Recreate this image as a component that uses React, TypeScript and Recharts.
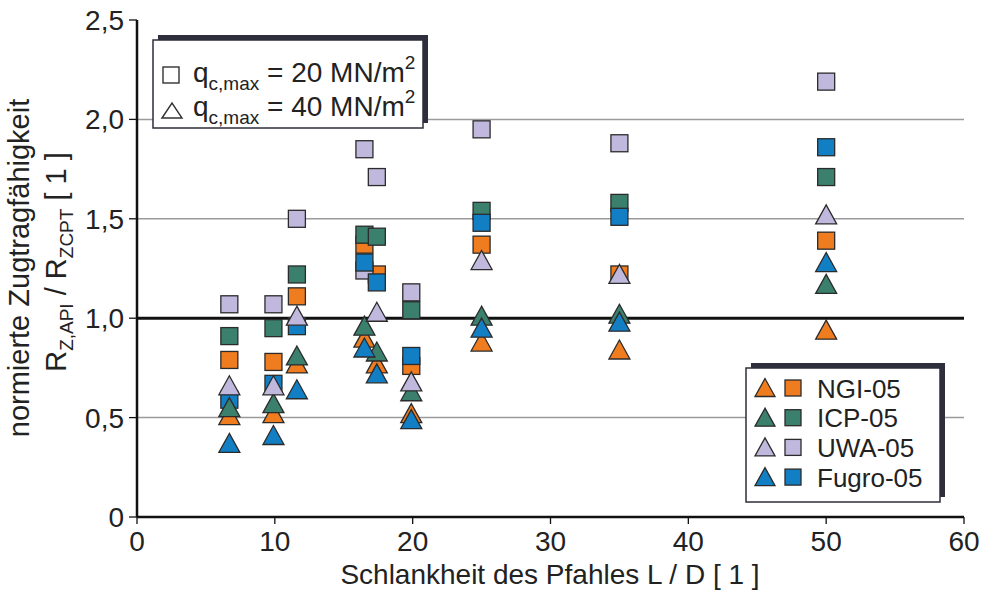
import { ScatterChart, Scatter, XAxis, YAxis, ReferenceLine } from 'recharts'

const FONT = '"Liberation Sans", Arial, Helvetica, sans-serif'
const STROKE = '#2b2b2b'

const xTicks = [0, 10, 20, 30, 40, 50, 60]
const yTicks = [0, 0.5, 1, 1.5, 2, 2.5]
const grayGridValues = [0.5, 1.5, 2]
const unityValue = 1

type Pt = [number, number]

// squares: q_c,max = 20 MN/m2
const ngiSquares: Pt[] = [[6.7, 0.79], [9.9, 0.78], [11.6, 1.11], [16.5, 1.37], [17.4, 1.22], [19.9, 0.76], [25, 1.37], [35, 1.22], [50, 1.39]]
const icpSquares: Pt[] = [[6.7, 0.91], [9.9, 0.95], [11.6, 1.22], [16.5, 1.42], [17.4, 1.41], [19.9, 1.04], [25, 1.54], [35, 1.58], [50, 1.71]]
const uwaSquares: Pt[] = [[6.7, 1.07], [9.9, 1.07], [11.6, 1.5], [16.5, 1.85], [16.5, 1.24], [17.4, 1.71], [19.9, 1.13], [25, 1.95], [35, 1.88], [50, 2.19]]
const fugroSquares: Pt[] = [[6.7, 0.59], [9.9, 0.67], [11.6, 0.96], [16.5, 1.28], [17.4, 1.18], [19.9, 0.81], [25, 1.48], [35, 1.51], [50, 1.86]]

// triangles: q_c,max = 40 MN/m2
const ngiTriangles: Pt[] = [[6.7, 0.51], [9.9, 0.52], [11.6, 0.77], [16.5, 0.9], [17.4, 0.77], [19.9, 0.52], [25, 0.88], [35, 0.84], [50, 0.94]]
const icpTriangles: Pt[] = [[6.7, 0.55], [9.9, 0.57], [11.6, 0.81], [16.5, 0.96], [17.4, 0.83], [19.9, 0.63], [25, 1.01], [35, 1.02], [50, 1.17]]
const uwaTriangles: Pt[] = [[6.7, 0.66], [9.9, 0.66], [11.6, 1.01], [17.4, 1.03], [19.9, 0.68], [25, 1.29], [35, 1.22], [50, 1.52]]
const fugroTriangles: Pt[] = [[6.7, 0.37], [9.9, 0.41], [11.6, 0.64], [16.5, 0.85], [17.4, 0.72], [19.9, 0.49], [25, 0.95], [35, 0.98], [50, 1.28]]

const series = [
  { name: 'NGI-05', color: '#EF7D1F', squares: ngiSquares, triangles: ngiTriangles },
  { name: 'ICP-05', color: '#3B7F6D', squares: icpSquares, triangles: icpTriangles },
  { name: 'UWA-05', color: '#C1B9DD', squares: uwaSquares, triangles: uwaTriangles },
  { name: 'Fugro-05', color: '#127FC5', squares: fugroSquares, triangles: fugroTriangles },
]

const toPoints = (arr: Pt[]) => arr.map(([x, y]) => ({ x, y }))

const fmtY = (v: number) => (v === 0 ? '0' : v.toFixed(1).replace('.', ','))

function Square({ cx, cy, fill, s = 17 }: { cx: number; cy: number; fill: string; s?: number }) {
  return <rect x={cx - s / 2} y={cy - s / 2} width={s} height={s} fill={fill} stroke={STROKE} strokeWidth={1.3} />
}

function Triangle({ cx, cy, fill, w = 21, h = 18 }: { cx: number; cy: number; fill: string; w?: number; h?: number }) {
  const pts = `${cx},${cy - h / 2 - 1} ${cx - w / 2},${cy + h / 2} ${cx + w / 2},${cy + h / 2}`
  return <polygon points={pts} fill={fill} stroke={STROKE} strokeWidth={1.3} strokeLinejoin="miter" />
}

const squareShape = (fill: string) => (p: any) => <Square cx={p.cx} cy={p.cy} fill={fill} />
const triangleShape = (fill: string) => (p: any) => <Triangle cx={p.cx} cy={p.cy} fill={fill} />

function Overlay() {
  return (
    <svg width={984} height={592} style={{ position: 'absolute', left: 0, top: 0, pointerEvents: 'none' }} fontFamily={FONT}>
      {/* y-axis label */}
      <text transform="translate(29,268) rotate(-90)" textAnchor="middle" fontSize={29} fill="#222">
        normierte Zugtragfähigkeit
      </text>
      <text transform="translate(66,262) rotate(-90)" textAnchor="middle" fontSize={29} fill="#222">
        R<tspan fontSize={19} dy={7}>Z,API</tspan>
        <tspan dy={-7}> / R</tspan>
        <tspan fontSize={19} dy={7}>ZCPT</tspan>
        <tspan dy={-7}> [ 1 ]</tspan>
      </text>
      {/* x-axis label */}
      <text x={550} y={584} textAnchor="middle" fontSize={28} fill="#222">
        Schlankheit des Pfahles L / D [ 1 ]
      </text>

      {/* load legend */}
      <rect x={158} y={35} width={270} height={88} fill="#2e2e3c" />
      <rect x={153} y={40} width={270} height={88} fill="#fff" stroke="#2e2e3c" strokeWidth={1.5} />
      <rect x={163} y={67} width={16} height={16} fill="none" stroke="#333" strokeWidth={1.4} />
      <polygon points="162,118 172,103 182,118" fill="none" stroke="#333" strokeWidth={1.4} />
      <text x={193} y={82} fontSize={28} fill="#222">
        q<tspan fontSize={19} dy={8}>c,max</tspan>
        <tspan dy={-8}> = 20 MN/m</tspan>
        <tspan fontSize={19} dy={-13}>2</tspan>
      </text>
      <text x={193} y={116} fontSize={28} fill="#222">
        q<tspan fontSize={19} dy={8}>c,max</tspan>
        <tspan dy={-8}> = 40 MN/m</tspan>
        <tspan fontSize={19} dy={-13}>2</tspan>
      </text>

      {/* method legend */}
      <rect x={751} y={363} width={194} height={134} fill="#2e2e3c" />
      <rect x={746} y={368} width={194} height={134} fill="#fff" stroke="#2e2e3c" strokeWidth={1.5} />
      {series.map((s, i) => {
        const cy = 388 + i * 29.7
        return (
          <g key={s.name}>
            <Triangle cx={765} cy={cy} fill={s.color} w={20} h={17} />
            <Square cx={793} cy={cy} fill={s.color} s={16} />
            <text x={817} y={cy + 9.5} fontSize={26} fill="#222">{s.name}</text>
          </g>
        )
      })}
    </svg>
  )
}

export default function App() {
  return (
    <div style={{ position: 'absolute', left: 0, top: 0, width: 984, height: 592, background: '#fff' }}>
      <ScatterChart width={984} height={592} margin={{ top: 20, right: 20, bottom: 0, left: 0 }}>
        <XAxis
          type="number"
          dataKey="x"
          domain={[0, 60]}
          ticks={xTicks}
          interval={0}
          height={75}
          axisLine={{ stroke: '#111', strokeWidth: 2.5 }}
          tickLine={{ stroke: '#111', strokeWidth: 1.3 }}
          tickSize={7}
          tickMargin={7}
          tick={{ fill: '#222', fontSize: 28, fontFamily: FONT }}
        />
        <YAxis
          type="number"
          dataKey="y"
          domain={[0, 2.5]}
          ticks={yTicks}
          interval={0}
          width={137}
          axisLine={{ stroke: '#111', strokeWidth: 2.5 }}
          tickLine={{ stroke: '#111', strokeWidth: 1.3 }}
          tickSize={8}
          tickMargin={5}
          tickFormatter={fmtY}
          tick={{ fill: '#222', fontSize: 28, fontFamily: FONT }}
        />
        {grayGridValues.map((v) => (
          <ReferenceLine key={v} y={v} stroke="#9a9a9a" strokeWidth={1.5} />
        ))}
        <ReferenceLine y={unityValue} stroke="#111" strokeWidth={3} />
        {series.map((s) => (
          <Scatter
            key={s.name + '-sq'}
            name={s.name}
            data={toPoints(s.squares)}
            shape={squareShape(s.color)}
            isAnimationActive={false}
          />
        ))}
        {series.map((s) => (
          <Scatter
            key={s.name + '-tri'}
            name={s.name}
            data={toPoints(s.triangles)}
            shape={triangleShape(s.color)}
            isAnimationActive={false}
          />
        ))}
      </ScatterChart>
      <Overlay />
    </div>
  )
}
